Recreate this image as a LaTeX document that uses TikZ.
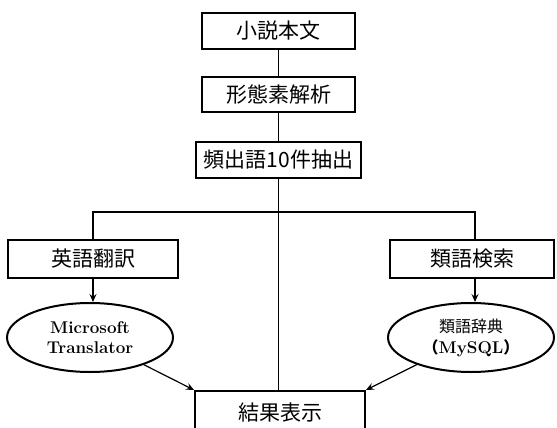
\documentclass[tikz,border=0pt]{standalone}
\usepackage{fontspec}
\newfontfamily\jp{Noto Sans CJK JP}
\usetikzlibrary{arrows.meta,shapes.geometric,calc}
\begin{document}
\begin{tikzpicture}[x=1pt,y=-1pt,
  box/.style={draw,line width=2pt,rectangle,inner sep=0pt,font=\jp\fontsize{21}{24}\selectfont},
  oval/.style={draw,line width=2pt,ellipse,inner sep=0pt,align=center,font=\bfseries\fontsize{17}{20}\selectfont},
  conn/.style={line width=1.2pt},
  arr/.style={line width=1.2pt,-{Stealth[length=8pt,width=7pt,inset=3pt]}}]
\clip (0,0) rectangle (557,428);
\node[box,minimum width=153pt,minimum height=36pt] (n1) at (278.5,31) {小説本文};
\node[box,minimum width=153pt,minimum height=35pt] (n2) at (278.5,94.5) {形態素解析};
\node[box,minimum width=165pt,minimum height=36pt] (n3) at (278.5,160) {頻出語10件抽出};
\node[box,minimum width=170pt,minimum height=38pt] (lb) at (93,259) {英語翻訳};
\node[box,minimum width=164pt,minimum height=38pt] (rb) at (472,259) {類語検索};
\node[oval,minimum width=166pt,minimum height=69pt] (le) at (90,337.5) {Microsoft\\Translator};
\node[oval,minimum width=166pt,minimum height=69pt] (re) at (471,337.5) {{\jp\mdseries\fontsize{16}{19}\selectfont 類語辞典}\\[1pt]{\jp\fontsize{16}{19}\selectfont （}MySQL{\jp\fontsize{16}{19}\selectfont ）}};
\node[box,minimum width=170pt,minimum height=44pt] (res) at (280,413) {結果表示};
\coordinate (j) at (278.5,212);
\draw[conn] (n1) -- (n2);
\draw[conn] (n2) -- (n3);
\draw[conn] (n3.south) -- (n3.south |- res.north);
\draw[conn] (lb.north) |- (j) -| ([xshift=3pt]rb.north);
\draw[arr] (lb.south) -- (lb.south |- le.north);
\draw[arr] ([xshift=3pt]rb.south) -- ([xshift=3pt]rb.south |- re.north);
\draw[arr] (le) -- (res.north west);
\draw[arr] (re) -- (res.north east);
\end{tikzpicture}
\end{document}
